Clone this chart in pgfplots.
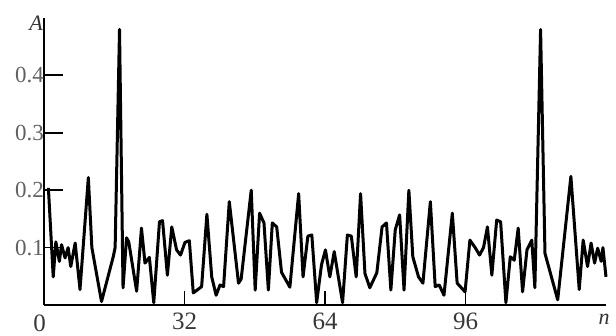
\documentclass[border=0pt]{standalone}
\usepackage{fontspec}
\setmainfont{Liberation Serif}
\usepackage{pgfplots}
\pgfplotsset{compat=1.18}
\begin{document}
\begin{tikzpicture}
\path[use as bounding box] (-44pt,-31pt) rectangle (572pt,305pt);
\begin{axis}[
  at={(0pt,0pt)}, anchor=south west,
  scale only axis, width=562pt, height=287pt,
  xmin=0, xmax=128, ymin=0, ymax=0.5,
  axis x line=bottom, axis y line=left,
  axis line style={-, line width=1.8pt, black},
  xtick={32,64,96},
  ytick={0.1,0.2,0.3,0.4},
  yticklabels={0.1,0.2,0.3,0.4},
  tick align=inside,
  major tick length=19pt,
  ytick style={line width=1.8pt, black},
  xtick style={/pgfplots/major tick length=14pt, line width=1.1pt, black},
  /pgf/number format/assume math mode=true,
  yticklabel style={font=\fontsize{23}{23}\selectfont, text=black!62, anchor=east, inner sep=0pt, xshift=0pt},
  xticklabel style={font=\fontsize{25}{25}\selectfont, text=black!78, anchor=north, inner sep=0pt, yshift=-8pt},
  clip=false,
]
\addplot[black, line width=3pt, line join=round] coordinates {
(1,0.204) (2.1,0.049) (2.7,0.11) (3.5,0.076) (4.0,0.105) (4.8,0.082) (5.5,0.10) (6.1,0.067) (7.1,0.108) (8.2,0.027)
(10.1,0.222) (10.9,0.10) (13.1,0.006) (15.8,0.085) (16.2,0.10) (17.2,0.48) (18.0,0.03) (18.8,0.117) (19.3,0.11) (21.1,0.024)
(22.2,0.134) (23.0,0.073) (24.0,0.083) (25.0,0.004) (26.3,0.145) (27.0,0.147) (28.1,0.052) (29.1,0.136) (30.2,0.096) (31.1,0.087)
(32.1,0.109) (33.1,0.112) (34.0,0.021) (35.9,0.032) (37.1,0.158) (38.2,0.049) (39.2,0.017) (40.1,0.035) (40.9,0.032) (42.2,0.18)
(44.3,0.038) (44.9,0.045) (47.2,0.2) (48.1,0.026) (49.1,0.16) (50.1,0.143) (51.1,0.026) (52.0,0.143) (53.0,0.136) (54.1,0.057)
(56.0,0.031) (58.0,0.194) (59.0,0.049) (60.1,0.12) (61.0,0.122) (62.1,0.004) (63.2,0.07) (64.1,0.096) (65.1,0.049) (66.1,0.093)
(68.0,0.004) (69.1,0.122) (70.0,0.12) (71.1,0.049) (72.1,0.194) (73.1,0.055) (74.2,0.03) (75.8,0.056) (77.0,0.136) (78.0,0.143)
(79.0,0.026) (80.0,0.131) (81.0,0.157) (82.0,0.026) (83.1,0.2) (84.0,0.084) (85.3,0.049) (86.3,0.038) (88.0,0.18) (89.1,0.032)
(90.0,0.035) (91.1,0.017) (93.0,0.16) (94.1,0.038) (95.9,0.023) (97.0,0.113) (98.2,0.10) (99.2,0.087) (100.1,0.10) (101.0,0.136)
(102.0,0.052) (103.1,0.148) (104.0,0.145) (105.2,0.004) (106.2,0.084) (107.1,0.078) (108.0,0.134) (109.0,0.023) (110.0,0.096) (111.1,0.113)
(111.8,0.03) (113.1,0.48) (114.1,0.09) (117.0,0.009) (120.0,0.224) (121.9,0.027) (122.8,0.113) (123.8,0.067) (124.6,0.108) (125.4,0.073)
(126.1,0.099) (126.9,0.076) (127.3,0.1) (128.0,0.049)
};
\node[anchor=north, inner sep=0pt, font=\fontsize{25}{25}\selectfont, text=black!78] at (axis cs:-1,0) [yshift=-10pt] {0};
\node[anchor=east, inner sep=0pt, font=\fontsize{22}{22}\selectfont\itshape, text=black!80] at (axis description cs:0,1) [xshift=-1pt, yshift=-5pt] {A};
\node[anchor=north, inner sep=0pt, font=\fontsize{22}{22}\selectfont\itshape, text=black!80] at (axis cs:127.6,0) [yshift=-9pt] {n};
\end{axis}
\end{tikzpicture}
\end{document}
